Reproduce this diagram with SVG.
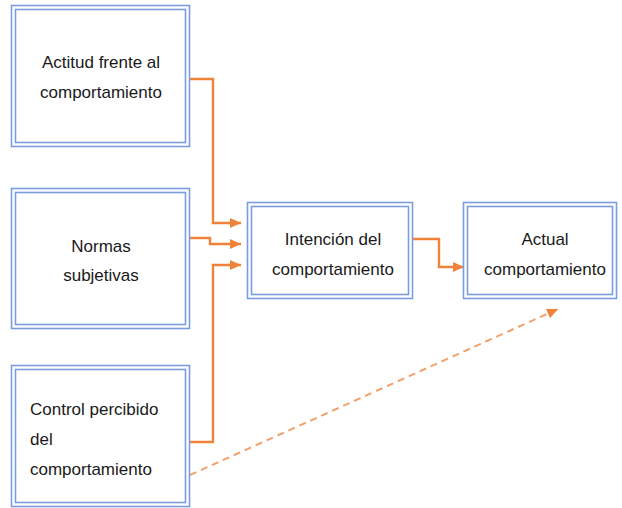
<svg xmlns="http://www.w3.org/2000/svg" width="622" height="508" viewBox="0 0 622 508">
  <style>
    .outer { fill: #ffffff; stroke: #7b9de0; stroke-width: 1.6; }
    .inner { fill: none; stroke: #7b9de0; stroke-width: 1.6; }
    .lbl { font-family: "Liberation Sans", Arial, sans-serif; font-size: 17px; fill: #1a1a1a; }
    .c { text-anchor: middle; }
    .conn { fill: none; stroke: #f0823a; stroke-width: 2.4; }
    .dash { fill: none; stroke: #f3a06a; stroke-width: 2; stroke-dasharray: 7 5; }
  </style>
  <defs>
    <marker id="ah" markerUnits="userSpaceOnUse" markerWidth="12" markerHeight="10" refX="11" refY="5" orient="auto">
      <path d="M0,0 L11,5 L0,10 Z" fill="#f0823a"/>
    </marker>
    <marker id="ahd" markerUnits="userSpaceOnUse" markerWidth="12" markerHeight="10" refX="11" refY="5" orient="auto">
      <path d="M0,0 L11,5 L0,10 Z" fill="#f0823a"/>
    </marker>
  </defs>
  <rect width="622" height="508" fill="#ffffff"/>

  <g id="connectors">
    <path class="conn" d="M190,79 H213 V223 H241" marker-end="url(#ah)"/>
    <path class="conn" d="M190,238 H210 V244 H241" marker-end="url(#ah)"/>
    <path class="conn" d="M190,442 H213 V265 H241" marker-end="url(#ah)"/>
    <path class="conn" d="M413,239 H439 V267 H464" marker-end="url(#ah)"/>
    <path class="dash" d="M190,475 L558,309" marker-end="url(#ahd)"/>
  </g>

  <g id="actitud">
    <rect class="outer" x="11.5" y="5.5" width="178" height="141"/>
    <rect class="inner" x="15.5" y="9.5" width="170" height="133"/>
    <text class="lbl c" x="101" y="68">Actitud frente al</text>
    <text class="lbl c" x="101" y="98">comportamiento</text>
  </g>

  <g id="normas">
    <rect class="outer" x="11.5" y="188.5" width="178" height="140"/>
    <rect class="inner" x="15.5" y="192.5" width="170" height="132"/>
    <text class="lbl c" x="101" y="252">Normas</text>
    <text class="lbl c" x="101" y="281">subjetivas</text>
  </g>

  <g id="control">
    <rect class="outer" x="11.5" y="365.5" width="178" height="141"/>
    <rect class="inner" x="15.5" y="369.5" width="170" height="133"/>
    <text class="lbl" x="30" y="415">Control percibido</text>
    <text class="lbl" x="30" y="445">del</text>
    <text class="lbl" x="30" y="475">comportamiento</text>
  </g>

  <g id="intencion">
    <rect class="outer" x="247.5" y="202.5" width="165" height="96"/>
    <rect class="inner" x="251.5" y="206.5" width="157" height="88"/>
    <text class="lbl c" x="333" y="245">Intención del</text>
    <text class="lbl c" x="333" y="275">comportamiento</text>
  </g>

  <g id="actual">
    <rect class="outer" x="463.5" y="202.5" width="153" height="96"/>
    <rect class="inner" x="467.5" y="206.5" width="145" height="88"/>
    <text class="lbl c" x="545" y="245">Actual</text>
    <text class="lbl c" x="545" y="275">comportamiento</text>
  </g>
</svg>
